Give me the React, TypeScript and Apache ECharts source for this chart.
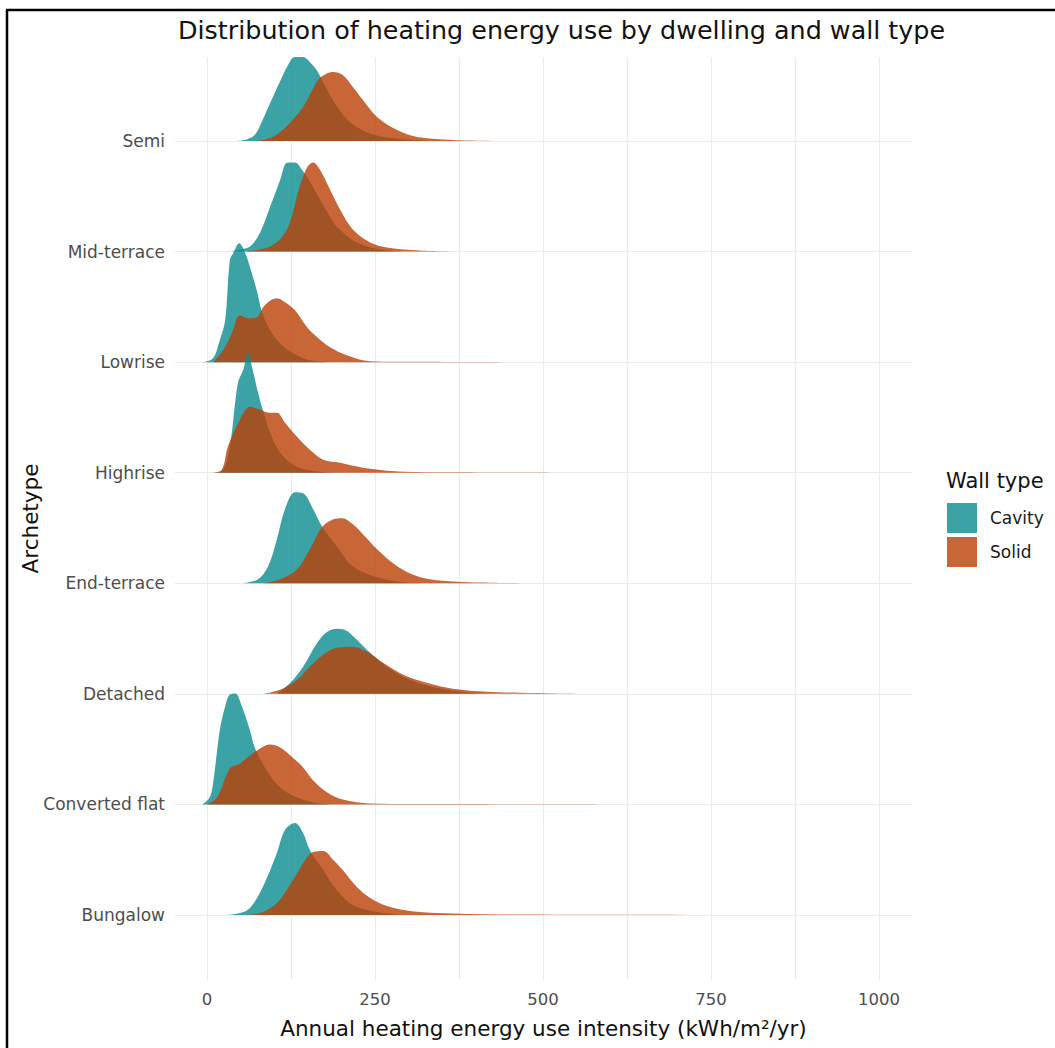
import React, { useEffect, useRef } from 'react';
import * as echarts from 'echarts';

// Archetypes from bottom (0) to top (7)
const ARCHETYPES = ['Bungalow', 'Converted flat', 'Detached', 'End-terrace', 'Highrise', 'Lowrise', 'Mid-terrace', 'Semi'];
const X_TICK_LABELS = [0, 250, 500, 750, 1000];
const X_GRID_VALUES = [0, 125, 250, 375, 500, 625, 750, 875, 1000];
const WALL_TYPES = ['Cavity', 'Solid'];

// [energy use intensity (kWh/m2/yr), density]
const semiCavity = [[42, 0], [56, 0.0001], [71, 0.0006], [82, 0.002], [94, 0.0038], [109, 0.006], [119, 0.0074], [131, 0.0084], [143, 0.0084], [153, 0.0079], [164, 0.007], [176, 0.0055], [190, 0.0038], [208, 0.0022], [228, 0.0012], [250, 0.0006], [287, 0.0002], [332, 0]];
const semiSolid = [[74, 0], [94, 0.0003], [109, 0.0009], [126, 0.002], [143, 0.0034], [156, 0.005], [168, 0.0063], [188, 0.0069], [202, 0.0066], [217, 0.0054], [232, 0.0041], [253, 0.0024], [283, 0.0011], [313, 0.0004], [366, 0.0001], [440, 0]];

const midCavity = [[37, 0], [49, 0.0002], [64, 0.0005], [79, 0.0019], [94, 0.0045], [109, 0.0072], [116, 0.0087], [121, 0.0089], [131, 0.0089], [141, 0.0082], [153, 0.007], [168, 0.0052], [183, 0.0035], [193, 0.0025], [223, 0.0009], [268, 0.0001], [302, 0]];
const midSolid = [[54, 0], [94, 0.0005], [119, 0.0022], [138, 0.0065], [149, 0.0084], [158, 0.0089], [168, 0.0082], [183, 0.0062], [198, 0.0042], [217, 0.0022], [243, 0.0009], [268, 0.0004], [317, 0.0001], [376, 0]];

const lowCavity = [[-6, 0], [9, 0.0004], [19, 0.0022], [27, 0.0042], [34, 0.0102], [39, 0.0109], [48, 0.0119], [57, 0.0109], [64, 0.0095], [74, 0.0072], [82, 0.005], [94, 0.0032], [109, 0.0019], [128, 0.0009], [153, 0.0002], [183, 0]];
const lowSolid = [[9, 0], [24, 0.0012], [37, 0.0029], [49, 0.0047], [61, 0.0044], [74, 0.0045], [86, 0.0057], [104, 0.0064], [116, 0.006], [131, 0.0052], [149, 0.0035], [164, 0.0025], [183, 0.0015], [208, 0.0007], [243, 0.0001], [317, 0.00003], [436, 0]];

const highCavity = [[9, 0], [24, 0.0003], [34, 0.0026], [46, 0.009], [54, 0.0103], [61, 0.012], [68, 0.0103], [76, 0.008], [83, 0.0063], [94, 0.004], [109, 0.002], [134, 0.0006], [168, 0.0001], [198, 0]];
const highSolid = [[7, 0], [22, 0.0003], [31, 0.0026], [49, 0.0053], [64, 0.0066], [79, 0.0063], [94, 0.006], [104, 0.006], [116, 0.005], [134, 0.0036], [153, 0.0023], [173, 0.0013], [198, 0.001], [217, 0.0007], [243, 0.0004], [292, 0.0001], [361, 0.00005], [570, 0]];

const endCavity = [[54, 0], [76, 0.0004], [91, 0.0017], [104, 0.0044], [116, 0.0074], [131, 0.0091], [143, 0.009], [158, 0.0074], [171, 0.0057], [193, 0.0037], [217, 0.0017], [253, 0.0006], [292, 0.0001], [332, 0]];
const endSolid = [[83, 0], [109, 0.0004], [134, 0.0014], [153, 0.0034], [171, 0.0056], [188, 0.0064], [201, 0.0065], [217, 0.0059], [232, 0.0049], [253, 0.0034], [283, 0.0017], [313, 0.0007], [342, 0.0003], [391, 0.0001], [481, 0]];

const detCavity = [[104, 0], [124, 0.0011], [143, 0.0027], [164, 0.0051], [179, 0.0062], [193, 0.0065], [205, 0.0064], [220, 0.0056], [238, 0.0044], [268, 0.0027], [302, 0.0014], [342, 0.0006], [391, 0.0001], [436, 0]];
const detSolid = [[83, 0], [109, 0.0004], [134, 0.0014], [153, 0.0027], [173, 0.0039], [193, 0.0046], [216, 0.0047], [238, 0.0042], [262, 0.0031], [292, 0.0019], [327, 0.0011], [366, 0.0005], [417, 0.0002], [466, 0.0001], [525, 0.00004], [615, 0]];

const convCavity = [[-7, 0], [4, 0.0007], [9, 0.0021], [19, 0.0074], [27, 0.0098], [34, 0.011], [42, 0.0111], [52, 0.0098], [64, 0.0074], [71, 0.0057], [89, 0.0034], [109, 0.0017], [134, 0.0007], [168, 0.0001], [198, 0]];
const convSolid = [[0, 0], [15, 0.0007], [34, 0.0036], [49, 0.0041], [64, 0.0049], [79, 0.0056], [94, 0.006], [109, 0.0057], [124, 0.0049], [143, 0.0037], [158, 0.0024], [179, 0.0012], [202, 0.0005], [243, 0.0001], [362, 0.00003], [585, 0]];

const bungCavity = [[30, 0], [49, 0.0002], [64, 0.0007], [83, 0.0028], [104, 0.0062], [116, 0.0085], [131, 0.0092], [143, 0.0082], [153, 0.0065], [173, 0.0045], [193, 0.0025], [217, 0.001], [253, 0.0003], [292, 0]];
const bungSolid = [[54, 0], [79, 0.0002], [104, 0.0012], [128, 0.0035], [149, 0.0058], [158, 0.0063], [173, 0.0064], [188, 0.0055], [202, 0.0045], [223, 0.0028], [243, 0.0017], [268, 0.0009], [302, 0.0004], [342, 0.0002], [436, 0.00005], [927, 0]];

// bottom (0) to top (7)
const CAVITY_BY_ROW = [bungCavity, convCavity, detCavity, endCavity, highCavity, lowCavity, midCavity, semiCavity];
const SOLID_BY_ROW = [bungSolid, convSolid, detSolid, endSolid, highSolid, lowSolid, midSolid, semiSolid];

const FONT = 'DejaVu Sans';
const TEAL = 'rgba(10,140,144,0.8)';
const ORANGE = 'rgba(186,64,6,0.8)';
const GRID_COLOR = '#EBEBEB';
const ROW_PER_DENSITY = 90.44; // ridge scale

export default function App() {
  const ref = useRef<HTMLDivElement>(null);

  useEffect(() => {
    document.body.style.margin = '0';
    if (!ref.current) return;
    const chart = echarts.init(ref.current, undefined, { renderer: 'svg' });

    const series: any[] = [];
    for (let row = ARCHETYPES.length - 1; row >= 0; row--) {
      const sets = [CAVITY_BY_ROW[row], SOLID_BY_ROW[row]];
      sets.forEach((pts, i) => {
        const color = i === 0 ? TEAL : ORANGE;
        series.push({
          type: 'line',
          name: WALL_TYPES[i],
          data: pts.map(([x, d]) => [x, row + d * ROW_PER_DENSITY]),
          showSymbol: false,
          symbol: 'none',
          smooth: 0.35,
          silent: true,
          lineStyle: { width: 0, opacity: 0 },
          itemStyle: { color },
          areaStyle: { color, opacity: 1, origin: row },
          z: 2,
        });
      });
    }

    chart.setOption({
      animation: false,
      backgroundColor: '#ffffff',
      textStyle: { fontFamily: FONT },
      title: [
        {
          text: 'Distribution of heating energy use by dwelling and wall type',
          left: 178,
          top: 17,
          padding: 0,
          textStyle: { fontFamily: FONT, fontSize: 25.4, fontWeight: 'normal', color: '#111111' },
        },
        {
          text: 'Wall type',
          left: 946,
          top: 470,
          padding: 0,
          textStyle: { fontFamily: FONT, fontSize: 21, fontWeight: 'normal', color: '#111111' },
        },
      ],
      legend: {
        orient: 'vertical',
        left: 947,
        top: 503,
        padding: 0,
        itemWidth: 30,
        itemHeight: 30,
        itemGap: 4,
        icon: 'rect',
        selectedMode: false,
        itemStyle: { borderWidth: 0 },
        data: [
          { name: 'Cavity', itemStyle: { color: TEAL } },
          { name: 'Solid', itemStyle: { color: ORANGE } },
        ],
        textStyle: { fontFamily: FONT, fontSize: 17, color: '#1a1a1a', padding: [0, 0, 0, 8] },
      },
      grid: { left: 175, right: 143, top: 57, bottom: 68, containLabel: false },
      xAxis: {
        type: 'value',
        min: -47.6,
        max: 1049.1,
        name: 'Annual heating energy use intensity (kWh/m²/yr)',
        nameLocation: 'middle',
        nameGap: 37,
        nameTextStyle: { fontFamily: FONT, fontSize: 21.5, color: '#111111' },
        axisLine: { show: false },
        axisTick: { show: false, customValues: X_GRID_VALUES },
        axisLabel: {
          customValues: X_TICK_LABELS,
          formatter: (v: number) => String(v),
          margin: 11,
          fontFamily: FONT,
          fontSize: 16.5,
          color: '#4D4D4D',
        },
        splitLine: { show: true, lineStyle: { color: GRID_COLOR, width: 1.2 } },
      },
      yAxis: {
        type: 'value',
        min: -0.5879,
        max: 7.7597,
        name: 'Archetype',
        nameLocation: 'middle',
        nameGap: 134,
        nameMoveOverlap: false,
        nameTextStyle: { fontFamily: FONT, fontSize: 21.5, color: '#111111' },
        axisLine: { show: false },
        axisTick: { show: false, customValues: ARCHETYPES.map((_, i) => i) },
        axisLabel: {
          customValues: ARCHETYPES.map((_, i) => i),
          formatter: (v: number) => ARCHETYPES[Math.round(v)] ?? '',
          margin: 10,
          fontFamily: FONT,
          fontSize: 17,
          color: '#4D4D4D',
        },
        splitLine: { show: true, lineStyle: { color: GRID_COLOR, width: 1.2 } },
      },
      graphic: [
        { type: 'line', shape: { x1: 7, y1: 10, x2: 7, y2: 1048 }, style: { stroke: '#000', lineWidth: 2.5 }, silent: true },
        { type: 'line', shape: { x1: 6, y1: 10, x2: 1055, y2: 10 }, style: { stroke: '#000', lineWidth: 2.5 }, silent: true },
      ],
      series,
    });

    return () => chart.dispose();
  }, []);

  return <div ref={ref} style={{ width: 1055, height: 1048 }} />;
}
